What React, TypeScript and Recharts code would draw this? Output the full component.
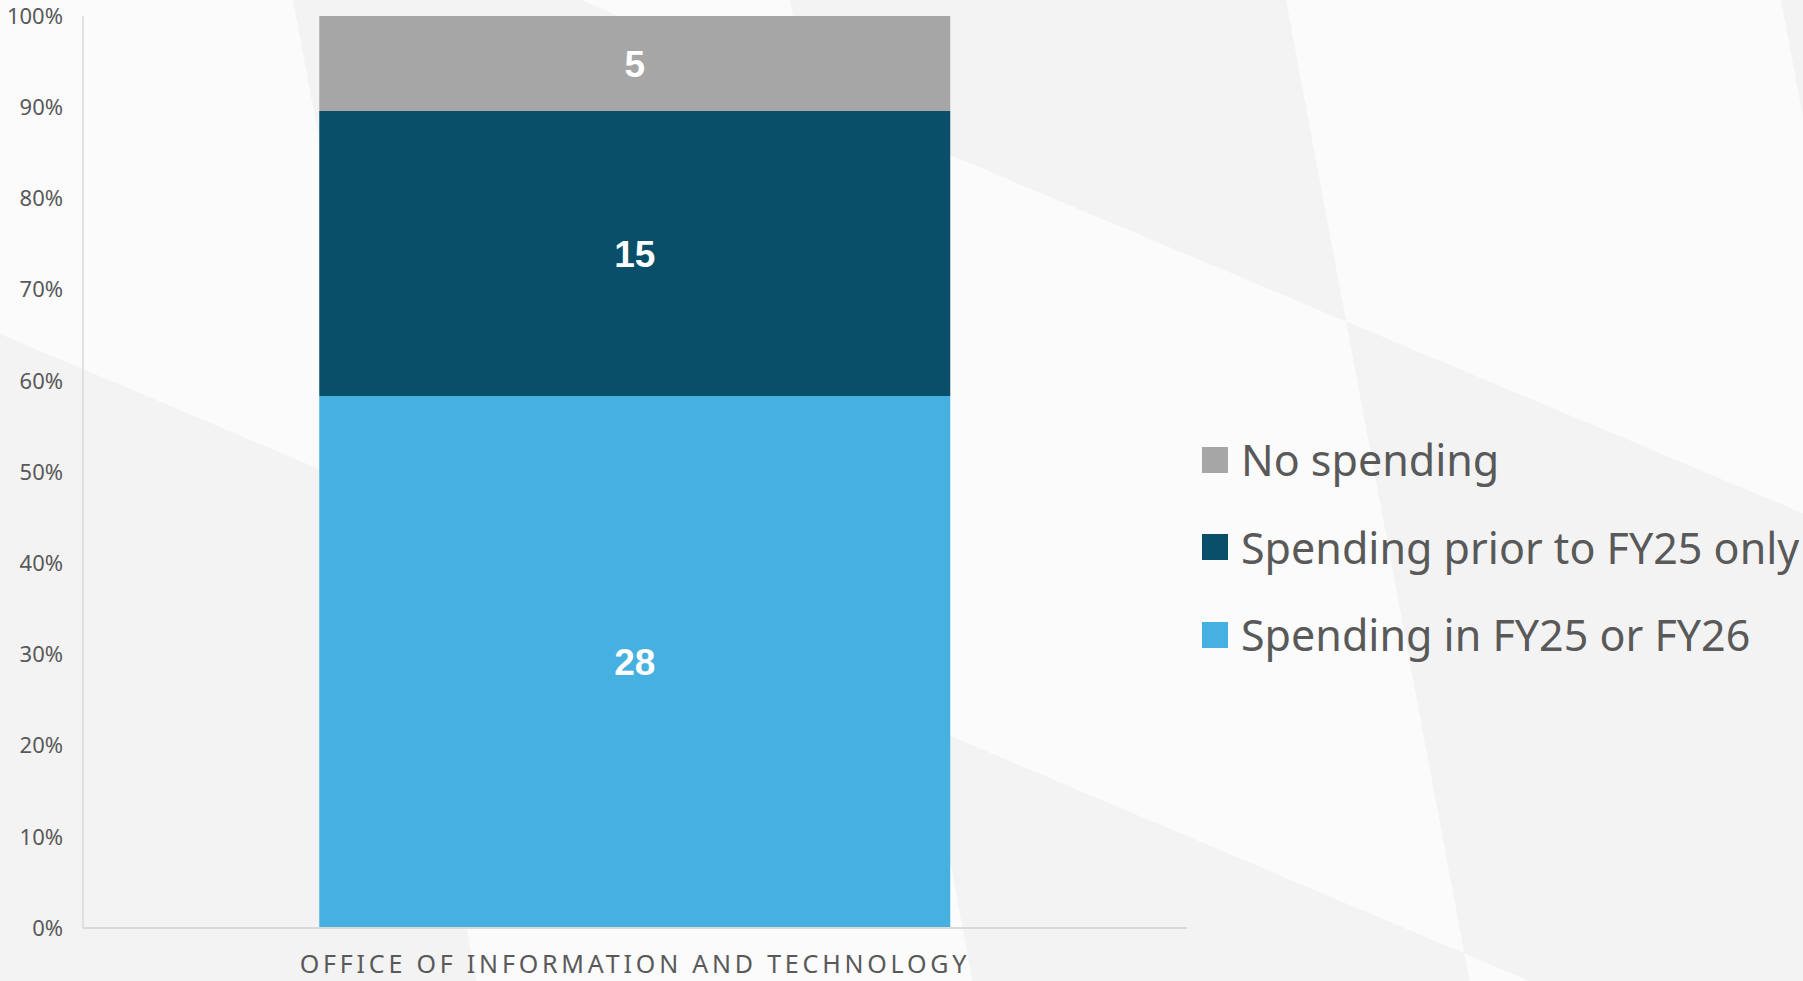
import React from "react";
import { BarChart, Bar, XAxis, YAxis, LabelList } from "recharts";

// ---- data ----
const categories = ["OFFICE OF INFORMATION AND TECHNOLOGY"];
const spendingInFY25orFY26 = [28];
const spendingPriorToFY25Only = [15];
const noSpending = [5];
const yTicks = [0, 0.1, 0.2, 0.3, 0.4, 0.5, 0.6, 0.7, 0.8, 0.9, 1];
const seriesKeys = ["inFY", "prior", "none"];
const seriesNames = ["Spending in FY25 or FY26", "Spending prior to FY25 only", "No spending"];
const seriesColors = ["#46B0E1", "#0A4F69", "#A6A6A6"];

const data = categories.map((c, i) => ({
  category: c,
  inFY: spendingInFY25orFY26[i],
  prior: spendingPriorToFY25Only[i],
  none: noSpending[i],
}));

// ---- decorative background (checker of light-grey facets) ----
const bgPath = [
  "M293,0 L2100,0 L2100,981 L476.5,981 Z",
  "M790,0 L2100,0 L2100,981 L972.5,981 Z",
  "M1286,0 L2100,0 L2100,981 L1469.5,981 Z",
  "M1781,0 L2100,0 L2100,981 L1964.5,981 Z",
  "M0,-244 L1803,513.3 L1803,1000 L0,1000 Z",
  "M0,334 L1803,1096.7 L1803,1200 L0,1200 Z",
].join(" ");

const textColor = "#595959";
const labelStyle = { fontSize: 37, fontWeight: 700, fontFamily: "'Liberation Sans', Arial, sans-serif" };

export default function App() {
  const legendOrder = [2, 1, 0];
  return (
    <div
      style={{
        position: "fixed",
        left: 0,
        top: 0,
        width: 1803,
        height: 981,
        overflow: "hidden",
        background: "#f3f3f3",
      }}
    >
      <svg width={1803} height={981} style={{ position: "absolute", left: 0, top: 0 }}>
        <rect x={0} y={0} width={1803} height={981} fill="#f3f3f3" />
        <path d={bgPath} fill="#fbfbfb" fillRule="evenodd" />
      </svg>
      <div style={{ position: "absolute", left: 0, top: 0 }}>
        <BarChart
          width={1803}
          height={981}
          data={data}
          stackOffset="expand"
          barCategoryGap="21.4%"
          margin={{ top: 16, right: 616, bottom: 0, left: 0 }}
        >
          <XAxis
            dataKey="category"
            interval={0}
            height={53}
            axisLine={{ stroke: "#d9d9d9", strokeWidth: 2 }}
            tickLine={false}
            tickMargin={21}
            tick={{
              fill: textColor,
              fontSize: 25,
              fontFamily: "'Noto Sans', sans-serif",
              style: { letterSpacing: "3.8px" },
            }}
          />
          <YAxis
            width={83}
            domain={[0, 1]}
            ticks={yTicks}
            interval={0}
            tickFormatter={(v: number) => `${Math.round(v * 100)}%`}
            axisLine={{ stroke: "#d9d9d9", strokeWidth: 1.5 }}
            tickLine={false}
            tickMargin={14}
            tick={{ fill: textColor, fontSize: 22, fontFamily: "'Noto Sans', sans-serif" }}
          />
          {seriesKeys.map((k, i) => (
            <Bar
              key={k}
              dataKey={k}
              name={seriesNames[i]}
              stackId="a"
              fill={seriesColors[i]}
              isAnimationActive={false}
            >
              <LabelList dataKey={k} position="center" fill="#ffffff" style={labelStyle} />
            </Bar>
          ))}
        </BarChart>
      </div>
      <div
        style={{
          position: "absolute",
          left: 1202,
          top: 416,
          fontFamily: "'Noto Sans', sans-serif",
        }}
      >
        {legendOrder.map((i) => (
          <div
            key={seriesKeys[i]}
            style={{ display: "flex", alignItems: "center", height: 87.5, whiteSpace: "nowrap" }}
          >
            <div
              style={{ width: 26, height: 26, background: seriesColors[i], marginRight: 13, flex: "none" }}
            />
            <span style={{ fontSize: 43, color: textColor, lineHeight: "87px" }}>{seriesNames[i]}</span>
          </div>
        ))}
      </div>
    </div>
  );
}
